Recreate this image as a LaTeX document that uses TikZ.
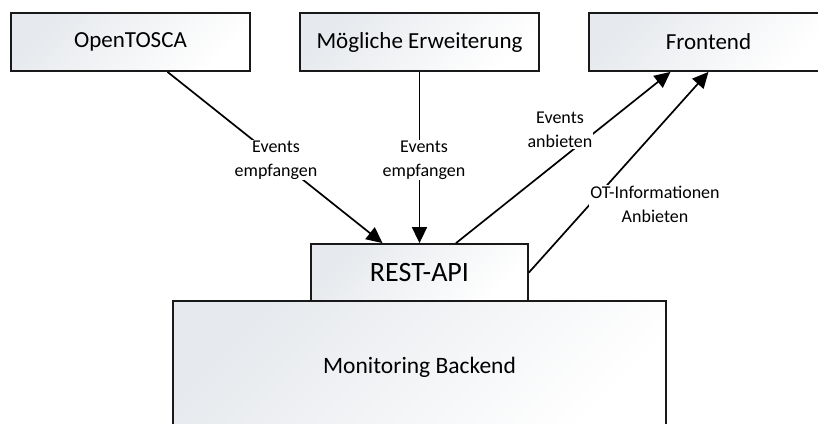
\documentclass[tikz,border=0pt]{standalone}
\usepackage{fontspec}
\setmainfont{Carlito}
\usetikzlibrary{arrows.meta,shadings}
\definecolor{boxgray}{RGB}{230,233,237}
\tikzset{
  comp/.style={draw=black!90, line width=1.8pt, top color=boxgray, bottom color=white,
    shading angle=45, inner sep=0pt, align=center},
  topbox/.style={comp, minimum width=239pt, minimum height=58pt, font=\fontsize{23}{27}\selectfont},
  flow/.style={line width=1.7pt, -{Triangle[length=16pt,width=15pt]}},
  lbl/.style={fill=white, inner sep=1pt, align=center, font=\fontsize{18}{24}\selectfont}
}
\begin{document}
\begin{tikzpicture}[x=1pt,y=-1pt]
\useasboundingbox (0,0) rectangle (818,423);
\clip (0,0) rectangle (818,423);
% components
\node[topbox] (tosca) at (130.5,42) {OpenTOSCA};
\node[topbox] (ext) at (419.5,42) {Mögliche Erweiterung};
\node[topbox] (front) at (708.5,42) {Frontend};
\node[comp, minimum width=493pt, minimum height=132pt, font=\fontsize{23.5}{28}\selectfont] (backend) at (419.5,367) {Monitoring Backend};
\node[comp, minimum width=217pt, minimum height=57pt, font=\fontsize{28}{32}\selectfont] (api) at (419.5,272.5) {REST-API};
% connectors
\draw[flow] ([xshift=37pt]tosca.south) -- ([xshift=-37pt]api.north);
\draw[flow] (ext.south) -- (api.north);
\draw[flow] ([xshift=36.5pt]api.north) -- ([xshift=-38pt]front.south);
\draw[flow] (api.east) -- (front.south);
% connector labels
\node[lbl] (l1) at (276,160) {Events\\empfangen};
\node[lbl] (l2) at (424,160) {Events\\empfangen};
\node[lbl] (l3) at (560,130) {Events\\anbieten};
\node[lbl] (l4) at (655,204) {OT-Informationen\\Anbieten};
\end{tikzpicture}
\end{document}
